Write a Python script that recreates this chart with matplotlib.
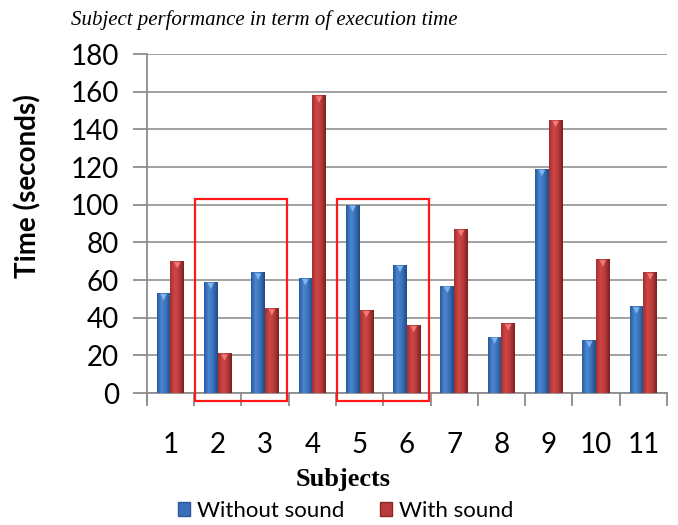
import numpy as np
import matplotlib
matplotlib.use("Agg")
import matplotlib.pyplot as plt
from matplotlib.patches import Rectangle, Patch
from matplotlib.colors import LinearSegmentedColormap

# data
subjects = ["1", "2", "3", "4", "5", "6", "7", "8", "9", "10", "11"]
without_sound = [53, 59, 64, 61, 100, 68, 57, 30, 119, 28, 46]
with_sound = [70, 21, 45, 158, 44, 36, 87, 37, 145, 71, 64]
series_names = ["Without sound", "With sound"]
highlight_groups = [(2, 3), (5, 6)]

plt.rcParams['font.family'] = ['Lato', 'DejaVu Sans']

fig = plt.figure(figsize=(6.78, 5.25), dpi=100)
ax = fig.add_axes([0.2164, 0.2514, 0.7674, 0.6457])

x = np.arange(1, len(subjects) + 1)
w = 0.29

blue_cmap = LinearSegmentedColormap.from_list("b", ["#2a5a9c", "#4a86d2", "#3a70b8", "#214a82"])
red_cmap = LinearSegmentedColormap.from_list("r", ["#a23030", "#d04646", "#b83a3a", "#7a1f1f"])
grad = np.linspace(0, 1, 64).reshape(1, -1)


def shaded_bars(xpos, vals, cmap, top_color):
    bars = ax.bar(xpos, vals, w, color="none", edgecolor="none", zorder=3)
    for b in bars:
        bx, by = b.get_x(), b.get_y()
        im = ax.imshow(grad, cmap=cmap, aspect="auto", zorder=3,
                       extent=[bx, bx + b.get_width(), by, by + b.get_height()])
        im.set_clip_path(b)
    ax.scatter(xpos, np.array(vals) - 2.2, marker="v", s=22, color=top_color,
               edgecolors="none", zorder=4)
    return bars


shaded_bars(x - w / 2, without_sound, blue_cmap, "#7fb4ec")
shaded_bars(x + w / 2, with_sound, red_cmap, "#ee7a7a")

ax.set_xlim(0.5, len(subjects) + 0.5)
ax.set_ylim(0, 180)
ax.set_yticks(range(0, 181, 20))
ax.set_xticks(x)
ax.set_xticklabels(subjects)
ax.set_xticks(np.arange(0.5, len(subjects) + 1, 1), minor=True)

ax.grid(axis="y", color="#9a9a9a", linewidth=1.3, zorder=0)
ax.set_axisbelow(True)
for s in ["top", "right"]:
    ax.spines[s].set_visible(False)
for s in ["left", "bottom"]:
    ax.spines[s].set_color("#8c8c8c")
    ax.spines[s].set_linewidth(1.3)
ax.spines["left"].set_bounds(-5, 180)

ax.tick_params(axis="y", length=10, width=1.3, color="#8c8c8c", labelsize=20, pad=10)
ax.tick_params(axis="x", which="major", length=0, labelsize=20, pad=28)
ax.tick_params(axis="x", which="minor", length=9, width=1.3, color="#8c8c8c")

# highlighted subject groups
for a, b in highlight_groups:
    ax.add_patch(Rectangle((a - 0.48, -4.2), (b - a) + 0.95, 107.2, fill=False,
                           edgecolor="#ff1a1a", linewidth=1.6, zorder=5, clip_on=False))

ax.set_ylabel("Time (seconds)", fontsize=20, fontweight="bold")
ax.yaxis.set_label_coords(-0.203, 0.61)
ax.set_xlabel("Subjects", fontsize=19, fontweight="bold", family="Liberation Serif")
ax.xaxis.set_label_coords(0.377, -0.222)
fig.text(0.39, 0.962, "Subject performance in term of execution time",
         ha="center", va="center", fontsize=15, style="italic", family="Liberation Serif")

handles = [Patch(facecolor="#3a70b8", edgecolor="#2a5a9c"),
           Patch(facecolor="#b83a3a", edgecolor="#8a2626")]
fig.legend(handles, series_names, loc="center", bbox_to_anchor=(0.51, 0.027), ncol=2,
           frameon=False, fontsize=16, handlelength=0.55, handleheight=0.55,
           handletextpad=0.3, columnspacing=1.6)

fig.savefig("out.png", dpi=100)
